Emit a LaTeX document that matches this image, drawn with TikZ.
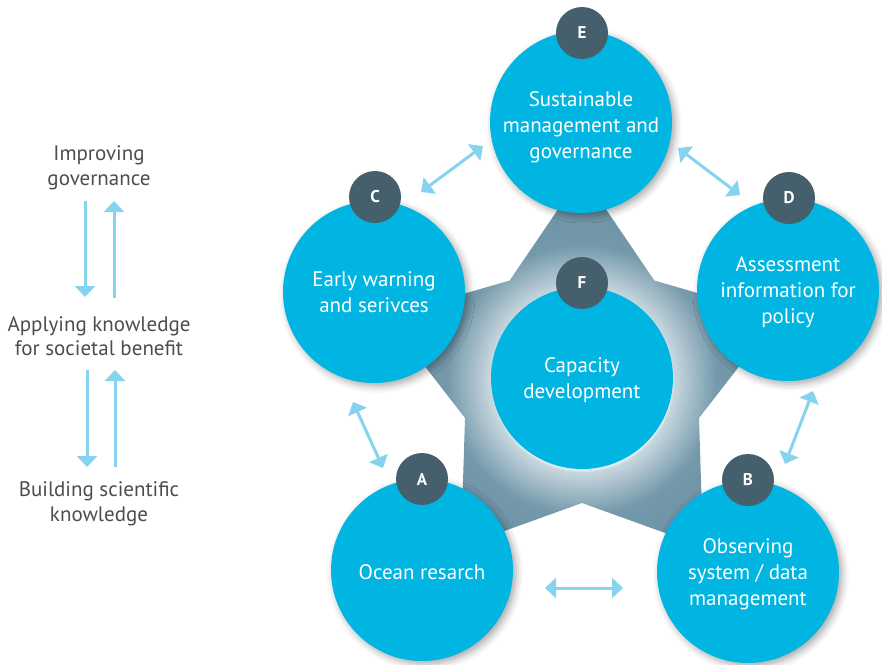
\documentclass[tikz,border=0pt]{standalone}
\usepackage{fontspec}
\setmainfont{PT Sans}
\usetikzlibrary{arrows.meta,shadows.blur}
\definecolor{cyanc}{HTML}{00B5E2}
\definecolor{badgec}{HTML}{455F6C}
\definecolor{arrc}{HTML}{86D3EF}
\definecolor{txtc}{HTML}{4D4D4D}
\definecolor{starc}{HTML}{7499AB}
\definecolor{starD}{HTML}{6A8FA1}
\definecolor{glowA}{HTML}{E4ECF0}
\definecolor{glowB}{HTML}{C8D7DE}
\pgfdeclareradialshading{glow}{\pgfpoint{0bp}{0bp}}{color(0bp)=(glowA); color(9bp)=(glowA); color(9.2bp)=(glowB); color(13.5bp)=(starc); color(20bp)=(starD); color(50bp)=(starD)}
\begin{document}
\begin{tikzpicture}[x=1pt,y=-1pt,
  plainc/.style={circle, fill=cyanc, minimum size=182pt, inner sep=0pt},
  bigc/.style={plainc,
     blur shadow={shadow xshift=3pt, shadow yshift=-3pt, shadow blur radius=7pt, shadow opacity=35}},
  ctext/.style={text=white, align=center, inner sep=0pt, font=\fontsize{21}{26}\selectfont},
  badge/.style={circle, fill=badgec, minimum size=52pt, inner sep=0pt, text=white, font=\fontsize{17}{20}\selectfont\bfseries},
  sidetxt/.style={text=txtc, align=center, font=\fontsize{21}{24.5}\selectfont},
  dbl/.style={draw=arrc, line width=3pt, {Triangle[width=20pt,length=11pt]}-{Triangle[width=20pt,length=11pt]}},
  sarr/.style={draw=arrc, line width=3pt, -{Triangle[width=20pt,length=11pt]}}
]
\useasboundingbox (0,0) rectangle (882,664);
% star with glow
\begin{scope}[shift={(582,380)}]
  \clip (270:206) -- (306:123) -- (342:206) -- (18:123) -- (54:206) -- (90:123)
     -- (126:206) -- (162:123) -- (198:206) -- (234:123) -- cycle;
  \shade[shading=glow] (0,0) circle[radius=250pt];
\end{scope}
% main circles
\node[plainc] (F) at (582,378) {};
\node[bigc] (E) at (581,122) {};
\node[bigc] (C) at (374,292) {};
\node[bigc] (D) at (788,290) {};
\node[bigc] (A) at (422,570) {};
\node[bigc] (B) at (748,572) {};
% circle texts
\node[ctext] (Ft) at (582,380) {Capacity\\development};
\node[ctext] (Et) at (581,127) {Sustainable\\management and\\governance};
\node[ctext] (Ct) at (374,292) {Early warning\\and serivces};
\node[ctext] (Dt) at (788,292) {Assessment\\information for\\policy};
\node[ctext] (At) at (422,572) {Ocean resarch};
\node[ctext] (Bt) at (748,574) {Observing\\system / data\\management};
% badges
\node[badge] (Fb) at (582,283) {F};
\node[badge] (Eb) at (582,33) {E};
\node[badge] (Cb) at (375,197) {C};
\node[badge] (Db) at (789,198) {D};
\node[badge] (Ab) at (422,479) {A};
\node[badge] (Bb) at (748,480) {B};
% arrow end points
\coordinate (ce1) at (421,192); \coordinate (ce2) at (483,146);
\coordinate (ed1) at (678,148); \coordinate (ed2) at (740,195);
\coordinate (ca1) at (353,402); \coordinate (ca2) at (383,468);
\coordinate (db1) at (813,391); \coordinate (db2) at (785,464);
\coordinate (ab1) at (545,588); \coordinate (ab2) at (623,588);
\draw[dbl] (ce1) -- (ce2);
\draw[dbl] (ed1) -- (ed2);
\draw[dbl] (ca1) -- (ca2);
\draw[dbl] (db1) -- (db2);
\draw[dbl] (ab1) -- (ab2);
% left side
\node[sidetxt] (gov) at (99,168) {Improving\\governance};
\node[sidetxt] (app) at (99,336) {Applying knowledge\\for societal benefit};
\node[sidetxt] (bld) at (99,504) {Building scientific\\knowledge};
\coordinate (d1s) at (85,201); \coordinate (d1e) at (85,297);
\coordinate (u1s) at (114,298); \coordinate (u1e) at (114,201);
\coordinate (d2s) at (87,370); \coordinate (d2e) at (87,467);
\coordinate (u2s) at (115,467); \coordinate (u2e) at (115,370);
\draw[sarr] (d1s) -- (d1e);
\draw[sarr] (u1s) -- (u1e);
\draw[sarr] (d2s) -- (d2e);
\draw[sarr] (u2s) -- (u2e);
\end{tikzpicture}
\end{document}
